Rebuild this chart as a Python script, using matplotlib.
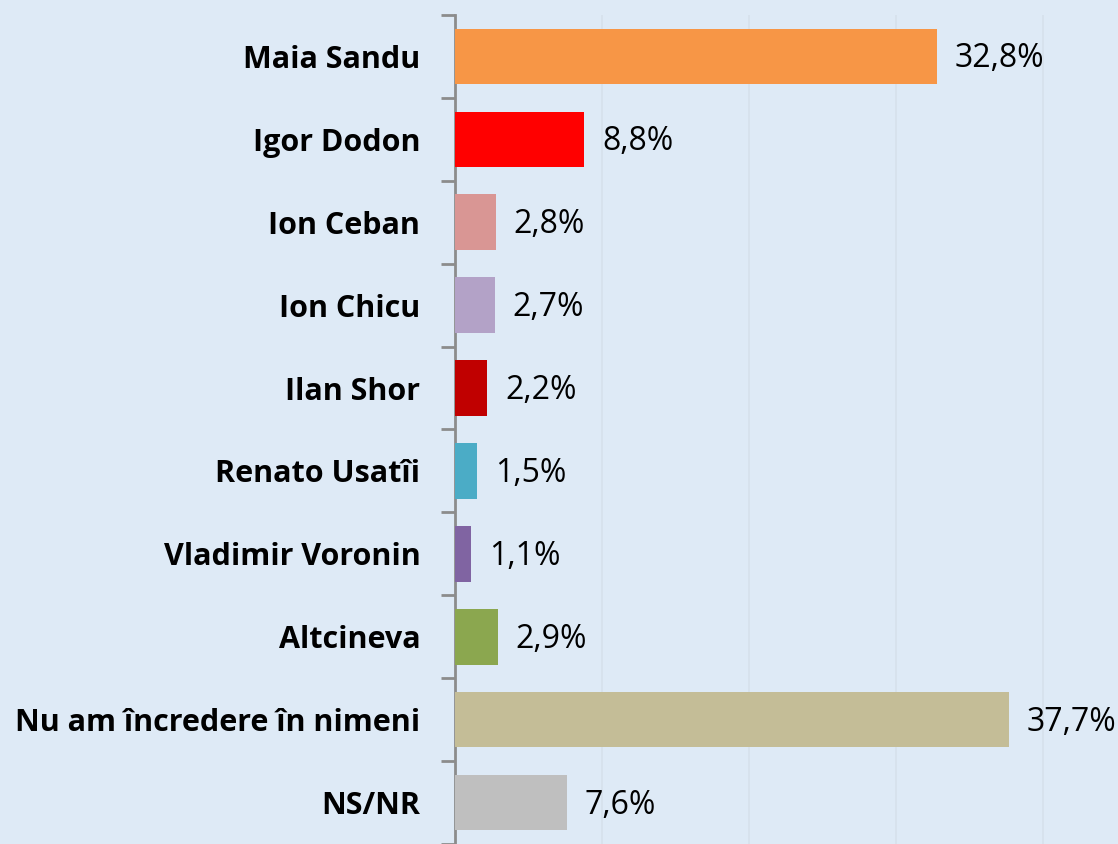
import matplotlib.pyplot as plt
import numpy as np

# Data
candidates = ["Maia Sandu", "Igor Dodon", "Ion Ceban", "Ion Chicu", "Ilan Shor",
              "Renato Usatîi", "Vladimir Voronin", "Altcineva",
              "Nu am încredere în nimeni", "NS/NR"]
values = [32.8, 8.8, 2.8, 2.7, 2.2, 1.5, 1.1, 2.9, 37.7, 7.6]
colors = ["#F79646", "#FF0000", "#D99694", "#B3A2C7", "#C00000",
          "#4BACC6", "#8064A2", "#8BA74F", "#C4BD97", "#BFBFBF"]

bg = "#DEEAF6"
fig = plt.figure(figsize=(11.18, 8.44), dpi=100, facecolor=bg)
ax = fig.add_axes([455 / 1118, 0, 1 - 455 / 1118, 1 - 15 / 844])
ax.set_facecolor(bg)

y = np.arange(len(candidates))
ax.barh(y, values, height=0.67, color=colors, zorder=3)

for yi, v in zip(y, values):
    ax.text(v + 1.2, yi + 0.03, f"{v:.1f}%".replace(".", ","), va="center", ha="left",
            fontsize=23, family="Open Sans", color="black", zorder=4)

ax.set_xlim(0, 663 / 14.7)
ax.set_ylim((844 - 15) / 83.3 - 0.5, -0.5)

# vertical gridlines
ax.set_xticks(np.arange(10, 50, 10))
ax.tick_params(axis="x", length=0, labelbottom=False)
ax.grid(axis="x", color="#D6E1EC", linewidth=1.2, zorder=0)

# category labels
ax.set_yticks(y)
ax.set_yticklabels(candidates, fontsize=22, fontweight="bold", family="Open Sans")
ax.tick_params(axis="y", which="major", length=0, pad=25)
ax.set_yticks(np.arange(-0.5, 10, 1), minor=True)
ax.tick_params(axis="y", which="minor", length=10, width=2, color="#8C8C8C")

for s in ["top", "right", "bottom"]:
    ax.spines[s].set_visible(False)
ax.spines["left"].set_color("#8C8C8C")
ax.spines["left"].set_linewidth(2)

fig.savefig("out.png", dpi=100, facecolor=bg)
